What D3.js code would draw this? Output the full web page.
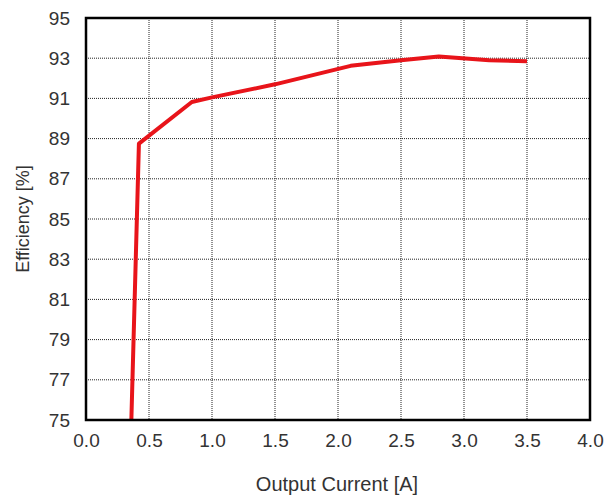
<!DOCTYPE html>
<html>
<head>
<meta charset="utf-8">
<script src="https://cdn.jsdelivr.net/npm/d3@7"></script>
<style>
  body { margin: 0; background: #fff; }
  text { font-family: "Liberation Sans", Arial, Helvetica, sans-serif; }
</style>
</head>
<body>
<div class="chart"></div>
<script>
// Efficiency curve
const currents = [0.36, 0.42, 0.84, 1.0, 1.5, 2.1, 2.5, 2.8, 3.2, 3.5];
const efficiency = [75, 88.75, 90.82, 91.05, 91.7, 92.62, 92.9, 93.08, 92.9, 92.85];
const xTicks = [0, 0.5, 1, 1.5, 2, 2.5, 3, 3.5, 4];
const yTicks = [75, 77, 79, 81, 83, 85, 87, 89, 91, 93, 95];

const width = 615;
const height = 495;
const margin = { top: 18, right: 25, bottom: 75, left: 86 };
const innerW = width - margin.left - margin.right;
const innerH = height - margin.top - margin.bottom;

const svg = d3.select(".chart")
    .append("svg")
    .attr("width", width)
    .attr("height", height);

const g = svg.append("g")
    .attr("transform", "translate(" + margin.left + "," + margin.top + ")");

const x = d3.scaleLinear().domain([0, 4]).range([0, innerW]);
const y = d3.scaleLinear().domain([75, 95]).range([innerH, 0]);

// Grid lines (dotted)
g.append("g")
    .selectAll("line")
    .data(xTicks.slice(1, -1))
    .join("line")
    .attr("x1", d => x(d)).attr("x2", d => x(d))
    .attr("y1", 0).attr("y2", innerH)
    .attr("stroke", "#222")
    .attr("stroke-width", 1)
    .attr("stroke-dasharray", "1,1");

g.append("g")
    .selectAll("line")
    .data(yTicks.slice(1, -1))
    .join("line")
    .attr("x1", 0).attr("x2", innerW)
    .attr("y1", d => y(d)).attr("y2", d => y(d))
    .attr("stroke", "#222")
    .attr("stroke-width", 1)
    .attr("stroke-dasharray", "1,1");

// Axes (labels only)
const xAxis = g.append("g")
    .attr("transform", "translate(0," + innerH + ")")
    .call(d3.axisBottom(x).tickValues(xTicks).tickFormat(d3.format(".1f")).tickSize(0).tickPadding(14));
const yAxis = g.append("g")
    .call(d3.axisLeft(y).tickValues(yTicks).tickFormat(d3.format("d")).tickSize(0).tickPadding(16));

[xAxis, yAxis].forEach(a => {
    a.select(".domain").remove();
    a.selectAll("text")
        .style("font-family", "\"Liberation Sans\", Arial, sans-serif")
        .style("font-size", "19px")
        .attr("fill", "#333");
});

// Efficiency line
const line = d3.line()
    .x((d, i) => x(currents[i]))
    .y(d => y(d));

g.append("path")
    .datum(efficiency)
    .attr("d", line)
    .attr("fill", "none")
    .attr("stroke", "#e8141a")
    .attr("stroke-width", 4)
    .attr("stroke-linejoin", "round");

// Plot frame
g.append("rect")
    .attr("width", innerW)
    .attr("height", innerH)
    .attr("fill", "none")
    .attr("stroke", "#000")
    .attr("stroke-width", 2.5);

// Axis titles
svg.append("text")
    .attr("x", 337)
    .attr("y", 491)
    .attr("text-anchor", "middle")
    .style("font-size", "20px")
    .attr("fill", "#333")
    .text("Output Current [A]");

svg.append("text")
    .attr("transform", "translate(29," + (margin.top + innerH / 2) + ") rotate(-90)")
    .attr("text-anchor", "middle")
    .style("font-size", "18px")
    .attr("fill", "#333")
    .text("Efficiency [%]");
</script>
</body>
</html>
